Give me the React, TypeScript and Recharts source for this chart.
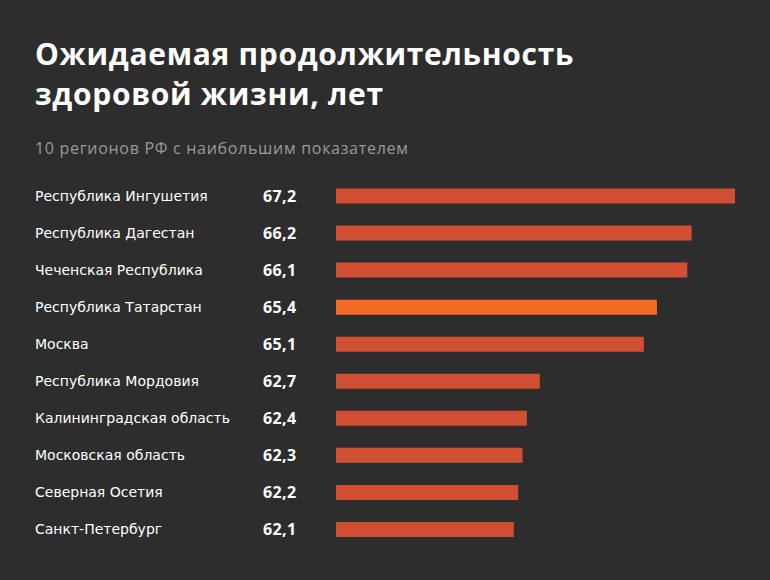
import { BarChart, Bar, XAxis, YAxis, Cell } from 'recharts';

const regions = [
  'Республика Ингушетия',
  'Республика Дагестан',
  'Чеченская Республика',
  'Республика Татарстан',
  'Москва',
  'Республика Мордовия',
  'Калининградская область',
  'Московская область',
  'Северная Осетия',
  'Санкт-Петербург',
];
const values = [67.2, 66.2, 66.1, 65.4, 65.1, 62.7, 62.4, 62.3, 62.2, 62.1];
const highlighted = ['Республика Татарстан'];

const data = regions.map((name, i) => ({ name, value: values[i] }));

const FONT = '"Open Sans", sans-serif';
const LABEL_FONT = '"DejaVu Sans", sans-serif';
const fmt = (v: number) => v.toFixed(1).replace('.', ',');

const RegionTick = (props: any) => {
  const { y, payload, index } = props;
  return (
    <g>
      <text x={35} y={y} dy={5} fill="#ffffff" fontSize={14} fontFamily={LABEL_FONT} textAnchor="start">
        {payload.value}
      </text>
      <text
        x={263}
        y={y}
        dy={6}
        fill="#ffffff"
        fontSize={16}
        fontWeight={700}
        fontFamily={FONT}
        letterSpacing={0.4}
        textAnchor="start"
      >
        {fmt(values[index])}
      </text>
    </g>
  );
};

export default function App() {
  return (
    <div
      style={{
        position: 'absolute',
        left: 0,
        top: 0,
        width: 770,
        height: 580,
        background: '#2d2d2d',
        fontFamily: FONT,
        overflow: 'hidden',
      }}
    >
      <div
        style={{
          position: 'absolute',
          left: 35,
          top: 34,
          color: '#ffffff',
          fontSize: 30,
          fontWeight: 700,
          lineHeight: '40px',
          letterSpacing: 0.7,
          whiteSpace: 'nowrap',
        }}
      >
        Ожидаемая продолжительность
        <br />
        здоровой жизни, лет
      </div>
      <div
        style={{
          position: 'absolute',
          left: 35,
          top: 137,
          color: '#9a9a9a',
          fontSize: 16,
          letterSpacing: 0.7,
          whiteSpace: 'nowrap',
        }}
      >
        10 регионов РФ с наибольшим показателем
      </div>
      <div style={{ position: 'absolute', left: 0, top: 0 }}>
        <BarChart
          width={770}
          height={580}
          data={data}
          layout="vertical"
          margin={{ top: 177.5, right: 35, bottom: 32, left: 0 }}
        >
          <XAxis type="number" domain={[58, 67.2]} hide />
          <YAxis
            type="category"
            dataKey="name"
            width={336}
            axisLine={false}
            tickLine={false}
            tick={<RegionTick />}
            interval={0}
          />
          <Bar dataKey="value" barSize={15} isAnimationActive={false}>
            {data.map((d) => (
              <Cell key={d.name} fill={highlighted.includes(d.name) ? '#f26a24' : '#d04f33'} />
            ))}
          </Bar>
        </BarChart>
      </div>
    </div>
  );
}
